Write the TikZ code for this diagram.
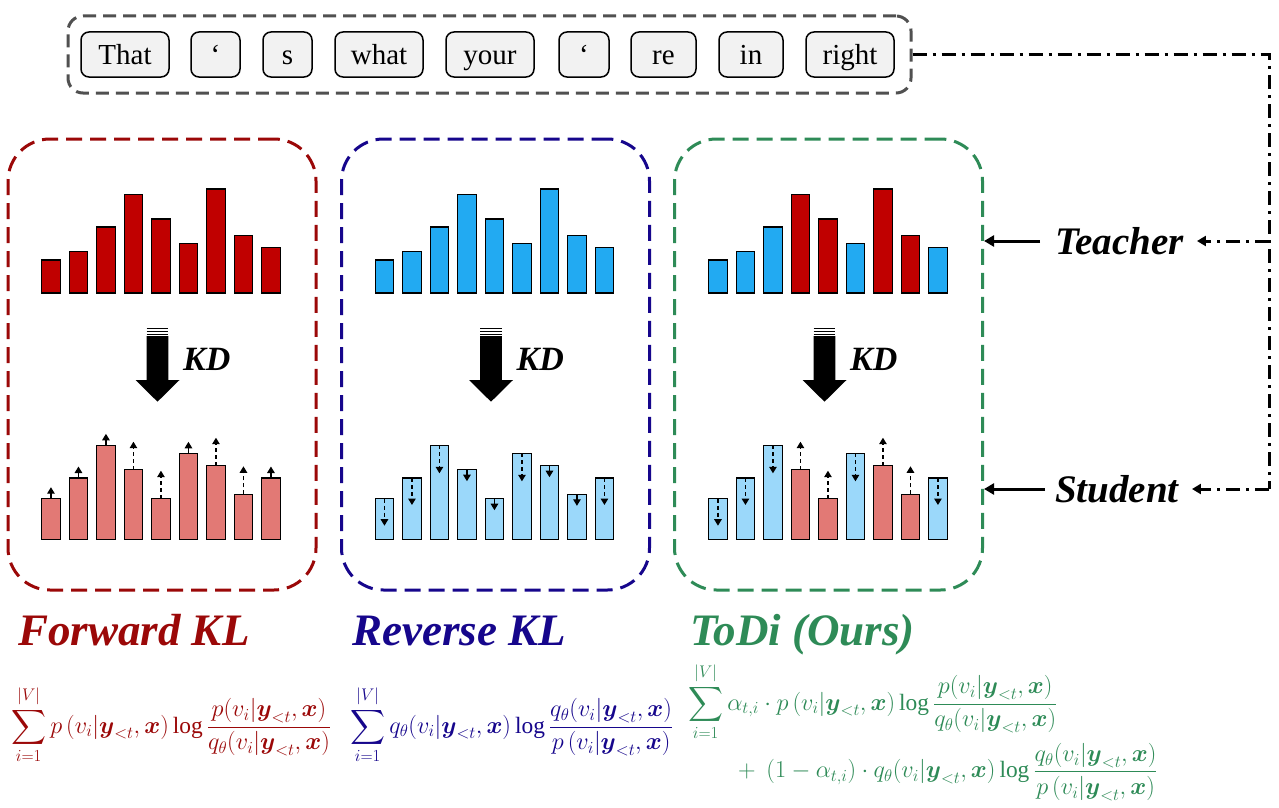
\documentclass[tikz,border=0pt]{standalone}
\usepackage{amsmath}
\usepackage{graphicx}
\usepackage{fontspec}
\setmainfont{Liberation Serif}
\usetikzlibrary{arrows.meta}
\definecolor{fkl}{RGB}{155,8,8}
\definecolor{rkl}{RGB}{22,6,140}
\definecolor{todi}{RGB}{46,139,87}
\definecolor{tred}{RGB}{192,0,0}
\definecolor{tblue}{RGB}{34,170,242}
\definecolor{sred}{RGB}{226,121,117}
\definecolor{sblue}{RGB}{155,216,250}
\definecolor{tokfill}{RGB}{242,242,242}
\definecolor{boxgray}{RGB}{80,80,80}
\newcommand{\myy}{\boldsymbol{y}}
\newcommand{\myx}{\boldsymbol{x}}
\newcommand{\kdshape}{%
  \fill (146.7,336) -- (168.3,336) -- (168.3,380) -- (179.5,380) -- (157.5,401.7) -- (135.5,380) -- (146.7,380) -- cycle;
  \foreach \yy in {328.8,331.6,334.4} \draw[line width=1.3pt] (146.7,\yy) -- (168.3,\yy);
}
\newcommand{\fsc}[1]{\scalebox{0.975}{#1}}
\begin{document}
\begin{tikzpicture}[x=1pt,y=-1pt,
 barbox/.style={draw=black,line width=1.4pt},
 sarrow/.style={line width=1.3pt,-{Triangle[length=6.5pt,width=7.5pt]}},
 darrow/.style={sarrow,dash pattern=on 4pt off 3pt},
 panelbox/.style={draw,line width=3pt,dash pattern=on 16pt off 8pt,rounded corners=42pt,minimum width=308pt,minimum height=451pt,inner sep=0},
 tokbox/.style={draw=black,line width=1.5pt,fill=tokfill,rounded corners=8pt,minimum height=45pt,inner sep=0,font=\fontsize{29}{34}\selectfont,text height=24pt,text depth=3pt},
 ttlbox/.style={inner sep=0,anchor=base west,font=\fontsize{45}{54}\selectfont\bfseries\itshape},
 kdbox/.style={inner sep=0,anchor=base west,font=\fontsize{34}{40}\selectfont\bfseries\itshape},
 sidebox/.style={inner sep=0,anchor=west,font=\fontsize{39}{46}\selectfont\bfseries\itshape},
 fml/.style={inner sep=0,anchor=west,font=\fontsize{24}{29}\selectfont},
 dd/.style={line width=3pt,dash pattern=on 14pt off 6pt on 3pt off 6pt},
 ddarrow/.style={dd,-{Triangle[length=9pt,width=10pt]}},
 solidarrow/.style={line width=3pt,-{Triangle[length=10pt,width=11pt]}},
]
\fill[white] (0,0) rectangle (1279,808);
\useasboundingbox (0,0) rectangle (1279,808);

% top token row
\node[draw=boxgray,line width=3pt,dash pattern=on 13pt off 7pt,rounded corners=15pt,minimum width=843pt,minimum height=77pt,inner sep=0] (topbox) at (489.5,54.5) {};
\node[tokbox,minimum width=88pt] (t1) at (125,54.5) {That};
\node[tokbox,minimum width=49pt] (t2) at (215.5,54.5) {‘};
\node[tokbox,minimum width=49pt] (t3) at (287.5,54.5) {s};
\node[tokbox,minimum width=88pt] (t4) at (379,54.5) {what};
\node[tokbox,minimum width=88pt] (t5) at (490,54.5) {your};
\node[tokbox,minimum width=50pt] (t6) at (584,54.5) {‘};
\node[tokbox,minimum width=65pt] (t7) at (663.5,54.5) {re};
\node[tokbox,minimum width=64pt] (t8) at (751,54.5) {in};
\node[tokbox,minimum width=88pt] (t9) at (850,54.5) {right};

% panels
\node[panelbox,draw=fkl] (p1) at (162,364.5) {};
\node[panelbox,draw=rkl] (p2) at (495.5,364.5) {};
\node[panelbox,draw=todi] (p3) at (828.5,364.5) {};

% panel 1: forward KL
\foreach \i/\h/\c in {1/33/tred,2/41.3/tred,3/66/tred,4/98.7/tred,5/74/tred,6/49.3/tred,7/104/tred,8/57.7/tred,9/45.3/tred}
 {\pgfmathsetmacro{\xl}{41.7+27.5*(\i-1)}
  \draw[barbox,fill=\c] (\xl,293) rectangle ++(18.5,-\h);}
\kdshape
\node[kdbox] (kd1) at (183,370) {KD};
\foreach \i/\h/\c/\d/\l/\s in {1/40.6/sred/-1/11.5/sarrow,2/61.3/sred/-1/11.5/sarrow,3/94/sred/-1/11.5/sarrow,4/69.6/sred/-1/28/darrow,5/40.6/sred/-1/28/darrow,6/86/sred/-1/11.5/sarrow,7/73.6/sred/-1/28/darrow,8/45/sred/-1/28/darrow,9/61.3/sred/-1/11.5/sarrow}
 {\pgfmathsetmacro{\xl}{41.7+27.5*(\i-1)}
  \draw[barbox,fill=\c] (\xl,539.3) rectangle ++(18.5,-\h);
  \draw[\s] ({\xl+9.25},{539.3-\h}) -- ++(0,{\d*\l});}

% panel 2: reverse KL
\begin{scope}[xshift=333.5pt]
\foreach \i/\h/\c in {1/33/tblue,2/41.3/tblue,3/66/tblue,4/98.7/tblue,5/74/tblue,6/49.3/tblue,7/104/tblue,8/57.7/tblue,9/45.3/tblue}
 {\pgfmathsetmacro{\xl}{41.7+27.5*(\i-1)}
  \draw[barbox,fill=\c] (\xl,293) rectangle ++(18.5,-\h);}
\kdshape
\node[kdbox] (kd2) at (183,370) {KD};
\foreach \i/\h/\c/\d/\l/\s in {1/40.6/sblue/1/27/darrow,2/61.3/sblue/1/27/darrow,3/94/sblue/1/28/darrow,4/69.6/sblue/1/11.5/sarrow,5/40.6/sblue/1/11.5/sarrow,6/86/sblue/1/28/darrow,7/73.6/sblue/1/11.5/sarrow,8/45/sblue/1/11.5/sarrow,9/61.3/sblue/1/27/darrow}
 {\pgfmathsetmacro{\xl}{41.7+27.5*(\i-1)}
  \draw[barbox,fill=\c] (\xl,539.3) rectangle ++(18.5,-\h);
  \draw[\s] ({\xl+9.25},{539.3-\h}) -- ++(0,{\d*\l});}
\end{scope}

% panel 3: ToDi
\begin{scope}[xshift=667pt]
\foreach \i/\h/\c in {1/33/tblue,2/41.3/tblue,3/66/tblue,4/98.7/tred,5/74/tred,6/49.3/tblue,7/104/tred,8/57.7/tred,9/45.3/tblue}
 {\pgfmathsetmacro{\xl}{41.7+27.5*(\i-1)}
  \draw[barbox,fill=\c] (\xl,293) rectangle ++(18.5,-\h);}
\kdshape
\node[kdbox] (kd3) at (183,370) {KD};
\foreach \i/\h/\c/\d/\l/\s in {1/40.6/sblue/1/27/darrow,2/61.3/sblue/1/27/darrow,3/94/sblue/1/28/darrow,4/69.6/sred/-1/28/darrow,5/40.6/sred/-1/28/darrow,6/86/sblue/1/28/darrow,7/73.6/sred/-1/28/darrow,8/45/sred/-1/28/darrow,9/61.3/sblue/1/27/darrow}
 {\pgfmathsetmacro{\xl}{41.7+27.5*(\i-1)}
  \draw[barbox,fill=\c] (\xl,539.3) rectangle ++(18.5,-\h);
  \draw[\s] ({\xl+9.25},{539.3-\h}) -- ++(0,{\d*\l});}
\end{scope}

% side labels and connectors
\node[sidebox] (teacher) at (1055,241) {Teacher};
\node[sidebox] (student) at (1055,489) {Student};
\draw[solidarrow] ([xshift=-15pt]teacher.west) -- (teacher.west -| p3.east);
\draw[solidarrow] ([xshift=-10pt]student.west) -- (student.west -| p3.east);
\coordinate (rtop) at (1269,54.5);
\coordinate (rbot) at (1269,489);
\draw[dd] (topbox.east) -- (rtop) -- (rbot);
\draw[ddarrow] (teacher.east -| rtop) -- ([xshift=13pt]teacher.east);
\draw[ddarrow] (rbot) -- ([xshift=13pt]student.east);

% titles
\node[ttlbox,text=fkl] (ttl1) at (18,645) {Forward KL};
\node[ttlbox,text=rkl] (ttl2) at (352,645) {Reverse KL};
\node[ttlbox,text=todi] (ttl3) at (690,645) {ToDi (Ours)};

% formulas
\node[fml,text=fkl] (f1) at (11,725) {\fsc{$\displaystyle \sum_{i=1}^{|V|} p\,(v_i|\myy_{<t},\myx)\log\frac{p(v_i|\myy_{<t},\myx)}{q_\theta(v_i|\myy_{<t},\myx)}$}};
\node[fml,text=rkl] (f2) at (350,725) {\fsc{$\displaystyle \sum_{i=1}^{|V|} q_\theta(v_i|\myy_{<t},\myx)\log\frac{q_\theta(v_i|\myy_{<t},\myx)}{p\,(v_i|\myy_{<t},\myx)}$}};
\node[fml,text=todi] (f3a) at (688,702) {\fsc{$\displaystyle \sum_{i=1}^{|V|} \alpha_{t,i}\cdot p\,(v_i|\myy_{<t},\myx)\log\frac{p(v_i|\myy_{<t},\myx)}{q_\theta(v_i|\myy_{<t},\myx)}$}};
\node[fml,text=todi] (f3b) at (738,772) {\fsc{$\displaystyle +\;\,(1-\alpha_{t,i})\cdot q_\theta(v_i|\myy_{<t},\myx)\log\frac{q_\theta(v_i|\myy_{<t},\myx)}{p\,(v_i|\myy_{<t},\myx)}$}};
\end{tikzpicture}
\end{document}
